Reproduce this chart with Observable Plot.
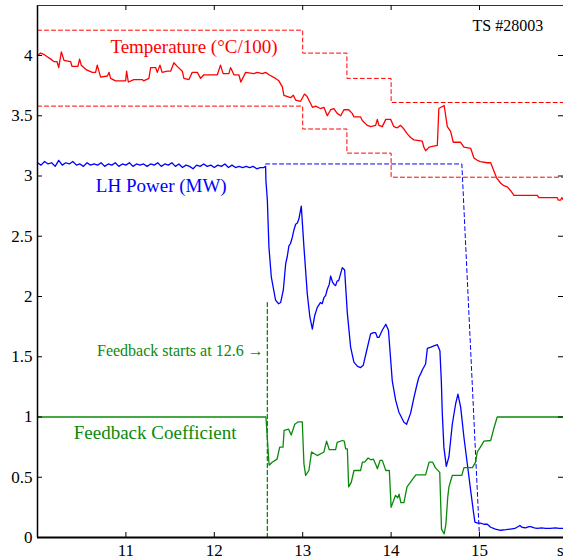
<!DOCTYPE html>
<html>
<head>
<meta charset="utf-8">
<script src="https://cdn.jsdelivr.net/npm/d3@7"></script>
<script src="https://cdn.jsdelivr.net/npm/@observablehq/plot@0.6"></script>
<style>
  html, body { margin: 0; padding: 0; background: white; }
  #chart svg, #chart svg text { font-family: "Liberation Serif", "Times New Roman", serif !important; }
</style>
</head>
<body>
<div id="chart"></div>
<script>
// ---------- data ----------
const xTicks = [11, 12, 13, 14, 15];
const xTickLabels = ["11", "12", "13", "14", "15"];
const yTicks = [0, 0.5, 1, 1.5, 2, 2.5, 3, 3.5, 4];
const yTickLabels = ["0", "0.5", "1", "1.5", "2", "2.5", "3", "3.5", "4"];

// Temperature (°C/100)
const tempT = [10.0,10.035,10.07,10.11,10.15,10.185,10.22,10.24,10.27,10.30,10.375,10.39,10.457,10.476,10.495,10.555,10.62,10.657,10.676,10.714,10.79,10.81,10.827,10.883,10.997,11.008,11.027,11.09,11.185,11.20,11.26,11.28,11.336,11.355,11.385,11.41,11.468,11.506,11.543,11.58,11.638,11.656,11.713,11.75,11.808,11.845,11.882,12.034,12.07,12.10,12.165,12.184,12.222,12.278,12.30,12.354,12.448,12.486,12.543,12.58,12.618,12.693,12.73,12.77,12.787,12.863,12.894,12.92,12.976,13.02,13.05,13.11,13.146,13.20,13.24,13.278,13.316,13.353,13.39,13.43,13.466,13.52,13.56,13.58,13.655,13.674,13.73,13.77,13.825,13.844,13.862,13.90,13.94,13.995,14.03,14.07,14.107,14.145,14.183,14.22,14.258,14.353,14.37,14.39,14.43,14.466,14.523,14.54,14.60,14.636,14.673,14.703,14.786,14.824,14.90,14.937,14.975,15.01,15.088,15.126,15.193,15.24,15.276,15.314,15.35,15.39,15.654,15.672,15.88,15.89,15.918,15.93,15.95];
const tempV = [4.00,4.02,4.01,3.99,3.97,3.95,3.95,3.90,4.03,3.96,3.95,3.91,3.91,3.97,3.92,3.88,3.86,3.86,3.92,3.82,3.83,3.86,3.81,3.79,3.79,3.87,3.78,3.80,3.80,3.79,3.81,3.90,3.90,3.86,3.92,3.86,3.87,3.87,3.94,3.91,3.87,3.81,3.80,3.86,3.86,3.81,3.84,3.84,3.92,3.85,3.85,3.90,3.84,3.84,3.78,3.86,3.85,3.86,3.85,3.86,3.84,3.81,3.79,3.74,3.67,3.65,3.67,3.63,3.62,3.68,3.66,3.57,3.58,3.56,3.57,3.50,3.55,3.56,3.52,3.50,3.55,3.55,3.52,3.49,3.49,3.46,3.42,3.41,3.42,3.47,3.42,3.41,3.47,3.47,3.41,3.40,3.42,3.39,3.35,3.32,3.30,3.29,3.24,3.21,3.24,3.245,3.255,3.56,3.585,3.41,3.37,3.28,3.28,3.24,3.23,3.15,3.13,3.12,3.11,3.11,2.985,2.94,2.92,2.91,2.88,2.84,2.84,2.82,2.82,2.80,2.80,2.82,2.80];

// Temperature reference band (step)
const tempRefT = [10, 13, 13.5, 14, 15.95];
const tempUpper = [4.21, 4.02, 3.81, 3.61, 3.61];
const tempLower = [3.58, 3.39, 3.19, 2.99, 2.99];

// LH Power (MW)
const lhT = [10.00,10.04,10.08,10.12,10.16,10.20,10.24,10.28,10.32,10.36,10.40,10.44,10.48,10.52,10.56,10.60,10.64,10.68,10.72,10.76,10.80,10.84,10.88,10.92,10.96,11.00,11.04,11.08,11.12,11.16,11.20,11.24,11.28,11.32,11.36,11.40,11.44,11.48,11.52,11.56,11.60,11.64,11.68,11.72,11.76,11.80,11.84,11.88,11.92,11.96,12.00,12.04,12.08,12.12,12.16,12.20,12.24,12.28,12.32,12.36,12.40,12.44,12.48,12.52,12.56,12.58,
  12.584,12.60,12.618,12.645,12.693,12.727,12.75,12.78,12.807,12.825,12.844,12.862,12.882,12.90,12.92,12.94,12.957,12.984,13.014,13.052,13.081,13.109,13.135,13.165,13.20,13.22,13.24,13.26,13.278,13.30,13.316,13.337,13.355,13.372,13.39,13.406,13.425,13.448,13.474,13.505,13.542,13.579,13.62,13.655,13.685,13.723,13.768,13.80,13.825,13.845,13.862,13.90,13.94,13.97,14.013,14.051,14.088,14.145,14.175,14.22,14.258,14.296,14.314,14.335,14.353,14.39,14.41,14.45,14.484,14.523,14.552,14.568,14.579,14.597,14.624,14.654,14.692,14.73,14.756,14.787,14.824,14.862,14.90,14.93,14.948,14.98,15.01,15.05,15.088,15.126,15.18,15.239,15.30,15.35,15.40,15.457,15.48,15.52,15.56,15.578,15.62,15.654,15.70,15.75,15.80,15.86,15.90,15.95];
const lhV = [3.11,3.09,3.12,3.10,3.11,3.08,3.13,3.09,3.11,3.10,3.12,3.09,3.10,3.08,3.11,3.09,3.10,3.09,3.11,3.08,3.10,3.09,3.11,3.08,3.10,3.09,3.11,3.08,3.10,3.09,3.10,3.08,3.10,3.09,3.11,3.08,3.10,3.09,3.11,3.08,3.10,3.07,3.09,3.08,3.06,3.09,3.08,3.10,3.08,3.09,3.07,3.09,3.08,3.10,3.07,3.09,3.07,3.08,3.07,3.08,3.07,3.08,3.06,3.07,3.07,3.08,
  2.96,2.80,2.41,2.16,1.97,1.94,1.95,2.05,2.27,2.33,2.42,2.44,2.49,2.55,2.60,2.61,2.645,2.75,2.41,2.02,1.83,1.73,1.84,1.91,1.95,1.94,1.99,2.01,2.06,2.10,2.17,2.12,2.10,2.09,2.13,2.13,2.18,2.24,2.22,1.86,1.58,1.455,1.42,1.41,1.43,1.55,1.69,1.70,1.70,1.66,1.66,1.72,1.77,1.72,1.30,1.14,1.04,0.957,0.94,1.03,1.16,1.28,1.33,1.36,1.39,1.44,1.57,1.58,1.59,1.60,1.55,1.30,1.03,0.75,0.59,0.67,0.94,1.11,1.19,1.08,0.83,0.61,0.39,0.22,0.127,0.12,0.12,0.11,0.11,0.085,0.07,0.06,0.065,0.07,0.075,0.10,0.085,0.08,0.09,0.09,0.08,0.075,0.08,0.075,0.075,0.08,0.075,0.075];

// LH power reference (dashed)
const lhRefT = [12.58, 14.80, 15.0];
const lhRefV = [3.1, 3.1, 0];

// Feedback coefficient
const fbT = [10.0,12.584,12.62,12.655,12.71,12.74,12.777,12.79,12.84,12.87,12.91,12.95,12.995,13.014,13.033,13.07,13.10,13.165,13.24,13.27,13.30,13.372,13.39,13.448,13.47,13.486,13.505,13.52,13.55,13.58,13.655,13.675,13.70,13.74,13.77,13.80,13.83,13.845,13.875,13.90,13.94,13.98,14.0,14.05,14.075,14.09,14.11,14.145,14.18,14.25,14.28,14.39,14.43,14.47,14.50,14.55,14.57,14.60,14.62,14.64,14.654,14.692,14.80,14.824,14.92,14.955,14.975,15.01,15.05,15.126,15.16,15.20,15.95];
const fbV = [1.0,1.0,0.60,0.625,0.65,0.75,0.75,0.89,0.90,0.85,0.94,0.96,0.96,0.61,0.515,0.556,0.71,0.68,0.71,0.80,0.73,0.73,0.79,0.805,0.80,0.735,0.735,0.42,0.46,0.556,0.556,0.625,0.625,0.66,0.645,0.65,0.60,0.57,0.64,0.64,0.556,0.556,0.25,0.35,0.33,0.36,0.29,0.29,0.42,0.49,0.52,0.52,0.625,0.625,0.58,0.54,0.07,0.03,0.11,0.33,0.42,0.515,0.515,0.58,0.58,0.625,0.71,0.75,0.80,0.805,0.90,1.0,1.0];

// Feedback start marker
const fbStartT = [12.6, 12.6];
const fbStartV = [0, 1.95];

const xDomain = [10, 15.95];
const yDomain = [0, 4.415];

const zip = (t, v) => t.map((x, i) => ({x, y: v[i]}));

const RED = "#ff0000", BLUE = "#0000ff", GREEN = "#0a8a0a";
const W = 563, H = 560, mL = 37, mR = 0, mT = 5, mB = 23;
const plotW = W - mL - mR, plotH = H - mT - mB;
const TL = 5; // tick length px

const chart = Plot.plot({
  width: W, height: H,
  marginLeft: mL, marginRight: mR, marginTop: mT, marginBottom: mB,
  x: {domain: xDomain, axis: null},
  y: {domain: yDomain, axis: null},
  style: {fontSize: "17px", background: "white", overflow: "visible"},
  marks: [
    // reference lines
    Plot.line(zip(tempRefT, tempUpper), {x: "x", y: "y", curve: "step-after", stroke: RED, strokeWidth: 1, strokeDasharray: "4,3"}),
    Plot.line(zip(tempRefT, tempLower), {x: "x", y: "y", curve: "step-after", stroke: RED, strokeWidth: 1, strokeDasharray: "4,3"}),
    Plot.line(zip(lhRefT, lhRefV), {x: "x", y: "y", stroke: BLUE, strokeWidth: 1, strokeDasharray: "4,3"}),
    Plot.line(zip(fbStartT, fbStartV), {x: "x", y: "y", stroke: GREEN, strokeWidth: 1.3, strokeDasharray: "4,3"}),
    // data lines
    Plot.line(zip(tempT, tempV), {x: "x", y: "y", stroke: RED, strokeWidth: 1.3}),
    Plot.line(zip(lhT, lhV), {x: "x", y: "y", stroke: BLUE, strokeWidth: 1.3}),
    Plot.line(zip(fbT, fbV), {x: "x", y: "y", stroke: GREEN, strokeWidth: 1.3}),
    // frame (left, top, bottom)
    Plot.ruleX([xDomain[0]], {stroke: "black", strokeWidth: 1.5}),
    Plot.ruleY([yDomain[0]], {stroke: "black", strokeWidth: 1.8}),
    Plot.ruleY([yDomain[1]], {stroke: "#333", strokeWidth: 1.2}),
    // inward ticks
    Plot.tickX(xTicks, {x: d => d, insetTop: plotH - TL, stroke: "black"}),
    Plot.tickX(xTicks, {x: d => d, insetBottom: plotH - TL, stroke: "black"}),
    Plot.tickY(yTicks, {y: d => d, insetRight: plotW - TL, stroke: "black"}),
    Plot.tickY(yTicks, {y: d => d, insetLeft: plotW - TL, stroke: "black"}),
    // tick labels
    Plot.text(xTicks, {x: d => d, text: (d, i) => xTickLabels[i], frameAnchor: "bottom", lineAnchor: "middle", dy: 13.5, fill: "black"}),
    Plot.text(["s"], {frameAnchor: "bottom-right", lineAnchor: "middle", textAnchor: "end", dy: 13.5, dx: 0, fill: "black"}),
    Plot.text(yTicks, {y: d => d, text: (d, i) => yTickLabels[i], frameAnchor: "left", textAnchor: "end", dx: -5, fill: "black"}),
    // annotations
    Plot.text(["Temperature (°C/100)"], {x: 11.77, y: 4.07, fill: RED, fontSize: 19}),
    Plot.text(["LH Power (MW)"], {x: 11.40, y: 2.92, fill: BLUE, fontSize: 19}),
    Plot.text(["Feedback Coefficient"], {x: 11.33, y: 0.87, fill: GREEN, fontSize: 19}),
    Plot.text(["Feedback starts at 12.6 \u2192"], {x: 12.558, y: 1.55, fill: GREEN, fontSize: 16, textAnchor: "end"}),
    Plot.text(["TS #28003"], {x: 15.32, y: 4.243, fill: "black", fontSize: 16})
  ]
});
document.getElementById("chart").appendChild(chart);
</script>
</body>
</html>
